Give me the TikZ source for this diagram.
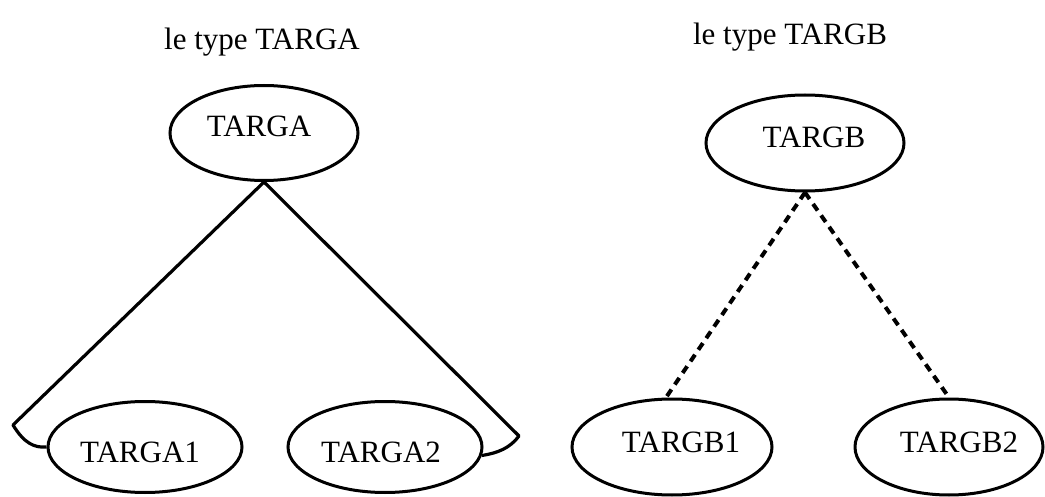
\documentclass[tikz,border=0pt]{standalone}
\usepackage{fontspec}
\setmainfont{Liberation Serif}
\usetikzlibrary{shapes.geometric}
\begin{document}
\begin{tikzpicture}[x=1pt,y=-1pt,
  every node/.style={font=\fontsize{31}{36}\selectfont},
  typenode/.style={ellipse,draw,line width=3pt,inner sep=0pt},
  % name of the type, slightly off the centre of its ellipse
  typename/.style n args={3}{label={[xshift=#1,yshift=#2,inner sep=0pt]center:#3}},
  title/.style={anchor=base,inner sep=0pt},
  solidlink/.style={line width=3.2pt,line join=round},
  dottedlink/.style={line width=4pt,dash pattern=on 8pt off 6pt}]
\useasboundingbox (0,0) rectangle (1045,497);

% headings
\node[title] (titleA) at (262,50) {le type TARGA};
\node[title] (titleB) at (790,45) {le type TARGB};

% type TARGA and its two parts
\node[typenode,minimum width=188pt,minimum height=95pt,typename={-5pt}{7pt}{TARGA}] (targa) at (264,133) {};
\node[typenode,minimum width=194pt,minimum height=91pt,typename={-5pt}{-5pt}{TARGA1}] (targa1) at (145,447) {};
\node[typenode,minimum width=194pt,minimum height=91pt,typename={-4pt}{-5pt}{TARGA2}] (targa2) at (385,447) {};

% type TARGB and its two parts
\node[typenode,minimum width=198pt,minimum height=96pt,typename={9pt}{6pt}{TARGB}] (targb) at (805,143) {};
\node[typenode,minimum width=200pt,minimum height=96pt,typename={9pt}{5pt}{TARGB1}] (targb1) at (672,447) {};
\node[typenode,minimum width=188pt,minimum height=96pt,typename={10pt}{5pt}{TARGB2}] (targb2) at (949,447) {};

% corners of the bracket-like links
\coordinate (cornerL) at (13,425);
\coordinate (cornerR) at (519,436);

% solid links of TARGA
\draw[solidlink] (targa.south) -- (cornerL) .. controls (24,443) and (34,448) .. (targa1.west);
\draw[solidlink] (targa.south) -- (cornerR) .. controls (510,448) and (498,453) .. (targa2.-5);

% dotted links of TARGB
\draw[dottedlink] (targb.south) -- (targb1.97);
\draw[dottedlink] (targb.south) -- (targb2.north);
\end{tikzpicture}
\end{document}
